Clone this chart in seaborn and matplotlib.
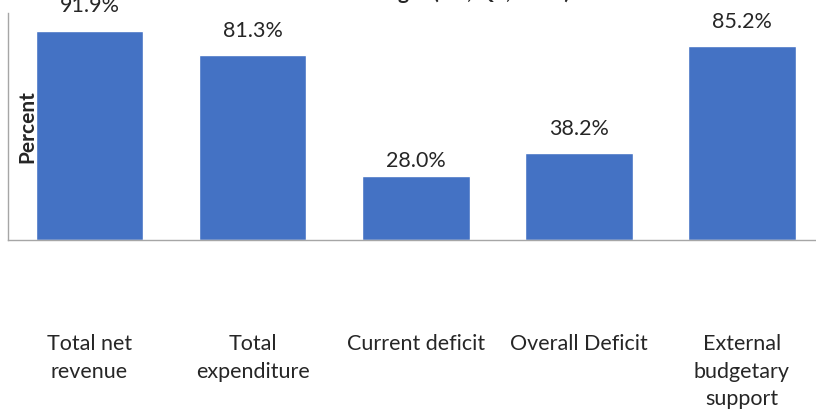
import matplotlib
matplotlib.use("Agg")
import matplotlib.pyplot as plt
import seaborn as sns
import pandas as pd

# --- data ---
categories = ["Total net\nrevenue", "Total\nexpenditure", "Current deficit",
              "Overall Deficit", "External\nbudgetary\nsupport"]
values = [91.9, 81.3, 28.0, 38.2, 85.2]
title = "Execution of budget (H1, Q2, 2015)"
ylabel = "Percent"

BAR_COLOR = "#4472C4"
AXIS_GRAY = "#A6A6A6"

sns.set_style("white")
plt.rcParams["font.family"] = ["Lato", "DejaVu Sans"]

df = pd.DataFrame({"category": categories, "value": values})

fig = plt.figure(figsize=(8.16, 4.11), dpi=100)
ax = fig.add_axes([8 / 816, 171 / 411, 815.5 / 816, 227.4 / 411])

sns.barplot(data=df, x="category", y="value", color=BAR_COLOR,
            width=0.66, saturation=1, ax=ax)

ax.set_xlim(-0.5, 4.5)
ax.set_ylim(0, 100)
ax.set_yticks([])
ax.set_xlabel("")
ax.set_ylabel("")

for side in ["top", "right"]:
    ax.spines[side].set_visible(False)
for side in ["left", "bottom"]:
    ax.spines[side].set_color(AXIS_GRAY)
    ax.spines[side].set_linewidth(1.0)

# category labels sit far below the axis line
ax.tick_params(axis="x", length=0, pad=68, labelsize=15.5)
for lbl in ax.get_xticklabels():
    lbl.set_linespacing(1.45)

# data labels: the 28.0% one sits closer to its bar in the original
labels = [f"{v:.1f}%" for v in values]
far = [t if v != 28.0 else "" for t, v in zip(labels, values)]
near = [t if v == 28.0 else "" for t, v in zip(labels, values)]
ax.bar_label(ax.containers[0], labels=far, padding=10.5, fontsize=15.5)
ax.bar_label(ax.containers[0], labels=near, padding=4, fontsize=15.5)

# y label sits inside the plot, over the first bar's edge
ax.text(19 / 816, 0.5, ylabel, transform=ax.transAxes,
        rotation=90, ha="center", va="center", fontsize=15, fontweight="bold")

# title is cut off at the top edge, only its lower part shows
fig.text(405 / 816, 1 + 1 / 411, title, ha="center", va="baseline",
         fontsize=15, fontweight="bold")

fig.savefig("out.png", dpi=100)
